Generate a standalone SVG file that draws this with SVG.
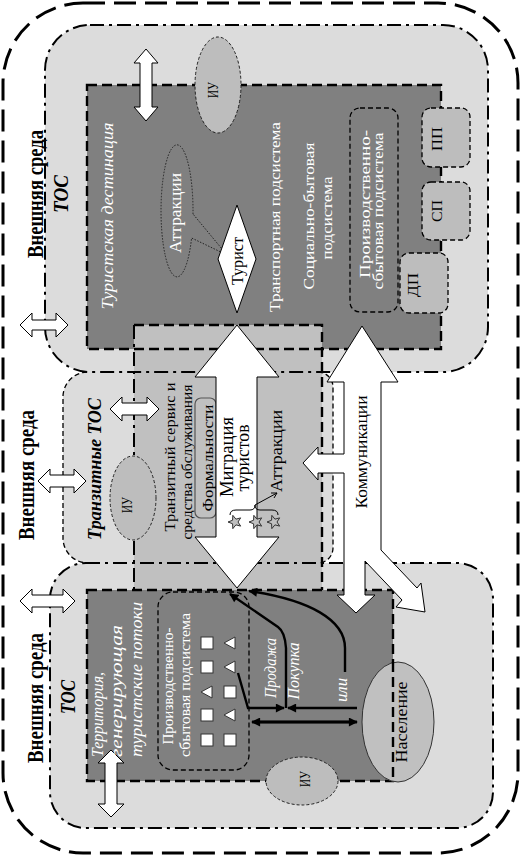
<svg xmlns="http://www.w3.org/2000/svg" xmlns:xlink="http://www.w3.org/1999/xlink" width="521" height="856" viewBox="0 0 521 856">
<style>
text{font-family:"Liberation Serif","Times New Roman",serif;}
.w{fill:#fff}
.k{fill:#000}
.it{font-style:italic}
.b{font-weight:bold}
.lt{fill:#dcdcdc}
.dk{fill:#808080}
.md{fill:#c0c0c0}
.dd{fill:none;stroke:#000;stroke-width:2;stroke-dasharray:14 5 3 5}
.ds{fill:none;stroke:#000;stroke-width:2.4;stroke-dasharray:10 5}
.sd{fill:none;stroke:#000;stroke-width:1.3;stroke-dasharray:5 3}
.iu{fill:#bdbdbd;stroke:#222;stroke-width:1;stroke-dasharray:3 2}
.box{fill:#bdbdbd;stroke:#000;stroke-width:1.3;stroke-dasharray:5 3}
.arr{fill:#fff;stroke:#000;stroke-width:1}
.ln{fill:none;stroke:#000;stroke-width:2.4}
</style>
<defs>
<marker id="ah" viewBox="0 0 10 10" refX="9" refY="5" markerWidth="10" markerHeight="9" markerUnits="userSpaceOnUse" orient="auto">
<path d="M0,0 L10,5 L0,10 Z" fill="#000"/>
</marker>
<path id="star" d="M0,-7 L1.76,-2.43 L6.66,-2.16 L2.85,0.93 L4.11,5.66 L0,3 L-4.11,5.66 L-2.85,0.93 L-6.66,-2.16 L-1.76,-2.43 Z" fill="#c0c0c0" stroke="#333" stroke-width="1"/>
</defs>

<g id="outer">
<rect x="3" y="3" width="515" height="850" rx="80" fill="none" stroke="#000" stroke-width="3" stroke-dasharray="22 9"/>
</g>

<g id="fills">
<rect class="lt" x="45" y="25" width="443" height="347" rx="45"/>
<rect class="lt" x="50" y="563" width="443" height="265" rx="36"/>
<path class="lt" d="M87,372 H318 A15,15 0 0 1 333,387 V548 A15,15 0 0 1 318,563 H88 A25,25 0 0 1 63,538 V397 A25,25 0 0 1 87,372 Z"/>
<rect class="dk" x="87" y="85" width="354" height="264"/>
<rect class="dk" x="87" y="590" width="306" height="191"/>
<rect class="md" x="134" y="325" width="188" height="265"/>
</g>

<g id="borders">
<rect class="dd" x="45" y="25" width="443" height="347" rx="45"/>
<rect class="dd" x="50" y="563" width="443" height="265" rx="36"/>
<path class="sd" d="M87,372 A25,25 0 0 0 63,397 V538 A25,25 0 0 0 88,563"/>
<path class="sd" d="M318,372 A15,15 0 0 1 333,387 V548 A15,15 0 0 1 318,563"/>
<rect class="ds" x="87" y="85" width="354" height="264"/>
<rect class="ds" x="87" y="590" width="306" height="191"/>
<path class="ds" d="M134,325 H322 V590"/>
<path class="dd" d="M134,325 V590"/>
</g>

<g id="tos-top">
<text class="b" font-size="24" transform="translate(43,194) rotate(-90)" text-anchor="middle" textLength="128" lengthAdjust="spacingAndGlyphs">Внешняя среда</text>
<text class="b it" font-size="20" transform="translate(68,194) rotate(-90)" text-anchor="middle" textLength="38" lengthAdjust="spacingAndGlyphs">ТОС</text>
<polygon class="arr" points="146,49 158,63 152,63 152,107 158,107 146,121 134,107 140,107 140,63 134,63"/>
<polygon class="arr" points="20,325 32,313 32,320 56,320 56,313 68,325 56,337 56,330 32,330 32,337"/>
</g>

<g id="iu-top">
<ellipse class="iu" cx="218" cy="85" rx="23" ry="48"/>
<text font-size="15" transform="translate(218,90) rotate(-90)" text-anchor="middle" textLength="16" lengthAdjust="spacingAndGlyphs">ИУ</text>
</g>

<g id="destination">
<text class="w it" font-size="16" transform="translate(113,216) rotate(-90)" text-anchor="middle" textLength="187" lengthAdjust="spacingAndGlyphs">Туристская дестинация</text>
<text class="w" font-size="15" transform="translate(280,217) rotate(-90)" text-anchor="middle" textLength="190" lengthAdjust="spacingAndGlyphs">Транспортная подсистема</text>
<text class="w" font-size="14" transform="translate(314,216) rotate(-90)" text-anchor="middle" textLength="147" lengthAdjust="spacingAndGlyphs">Социально-бытовая</text>
<text class="w" font-size="14" transform="translate(332,218) rotate(-90)" text-anchor="middle" textLength="83" lengthAdjust="spacingAndGlyphs">подсистема</text>
</g>

<g id="attractions-top">
<path d="M193,214 A16,66 0 1 0 191.6,238 L227,255 Z" fill="none" stroke="#222" stroke-width="1" stroke-dasharray="1.5 1.5"/>
<text class="w" font-size="17" transform="translate(181,213) rotate(-90)" text-anchor="middle" textLength="80" lengthAdjust="spacingAndGlyphs">Аттракции</text>
</g>

<g id="tourist">
<polygon class="arr" points="237,205 256,259 237,313 218,259"/>
<text class="k" font-size="17" transform="translate(243,261) rotate(-90)" text-anchor="middle" textLength="48" lengthAdjust="spacingAndGlyphs">Турист</text>
</g>

<g id="prod-top">
<rect class="sd" x="350" y="108" width="48" height="204" rx="10"/>
<text class="w" font-size="15" transform="translate(370,204) rotate(-90)" text-anchor="middle" textLength="148" lengthAdjust="spacingAndGlyphs">Производственно-</text>
<text class="w" font-size="14" transform="translate(383,211) rotate(-90)" text-anchor="middle" textLength="157" lengthAdjust="spacingAndGlyphs">сбытовая подсистема</text>
</g>

<g id="pp">
<rect class="box" x="422" y="108" width="48" height="59" rx="9"/>
<text font-size="15" transform="translate(442,139) rotate(-90)" text-anchor="middle" textLength="24" lengthAdjust="spacingAndGlyphs">ПП</text>
</g>
<g id="sp">
<rect class="box" x="422" y="182" width="48" height="58" rx="9"/>
<text font-size="15" transform="translate(442,211) rotate(-90)" text-anchor="middle" textLength="22" lengthAdjust="spacingAndGlyphs">СП</text>
</g>
<g id="dp">
<rect class="box" x="400" y="253" width="48" height="60" rx="9"/>
<text font-size="15" transform="translate(418,285) rotate(-90)" text-anchor="middle" textLength="24" lengthAdjust="spacingAndGlyphs">ДП</text>
</g>

<g id="tos-transit">
<text class="b" font-size="24" transform="translate(34,475) rotate(-90)" text-anchor="middle" textLength="130" lengthAdjust="spacingAndGlyphs">Внешняя среда</text>
<text class="b it" font-size="19" transform="translate(101,469) rotate(-90)" text-anchor="middle" textLength="142" lengthAdjust="spacingAndGlyphs">Транзитные ТОС</text>
<polygon class="arr" points="38,481 50,469 50,475 74,475 74,469 86,481 74,493 74,487 50,487 50,493"/>
<polygon class="arr" points="110,409 122,397 122,403 147,403 147,397 159,409 147,421 147,415 122,415 122,421"/>
</g>

<g id="iu-transit">
<ellipse class="iu" cx="133" cy="498" rx="23" ry="42"/>
<text font-size="15" transform="translate(132,505) rotate(-90)" text-anchor="middle" textLength="16" lengthAdjust="spacingAndGlyphs">ИУ</text>
</g>

<g id="transit-service">
<text class="k" font-size="15" transform="translate(175,457) rotate(-90)" text-anchor="middle" textLength="149" lengthAdjust="spacingAndGlyphs">Транзитный сервис и</text>
<text class="k" font-size="15" transform="translate(192,462) rotate(-90)" text-anchor="middle" textLength="155" lengthAdjust="spacingAndGlyphs">средства обслуживания</text>
</g>

<g id="formalities">
<rect x="195" y="398" width="21" height="120" rx="6" fill="#c0c0c0" stroke="#555" stroke-width="1.2"/>
<text class="k" font-size="14" transform="translate(213,458) rotate(-90)" text-anchor="middle" textLength="107" lengthAdjust="spacingAndGlyphs">Формальности</text>
</g>

<g id="migration">
<polygon class="arr" points="237,325 279,377 257,377 257,537 279,537 237,588 195,537 216,537 216,377 195,377"/>
<text class="k" font-size="18" transform="translate(233,457) rotate(-90)" text-anchor="middle" textLength="80" lengthAdjust="spacingAndGlyphs">Миграция</text>
<text class="k" font-size="18" transform="translate(249,458) rotate(-90)" text-anchor="middle" textLength="67" lengthAdjust="spacingAndGlyphs">туристов</text>
</g>

<g id="communications">
<polygon class="arr" points="362,326 398,382 381,382 381,550 417,588 421,583 425,612 396,607 402,600 365,561 365,595 375,595 356,613 337,595 344,595 344,473 318,473 318,480 303,463 318,447 318,454 344,454 344,382 327,382"/>
<text class="k" font-size="16" transform="translate(367,452) rotate(-90)" text-anchor="middle" textLength="113" lengthAdjust="spacingAndGlyphs">Коммуникации</text>
</g>

<g id="attractions-transit">
<use xlink:href="#star" href="#star" transform="translate(235,522) rotate(-90)"/>
<use xlink:href="#star" href="#star" transform="translate(256,522) rotate(-90)"/>
<use xlink:href="#star" href="#star" transform="translate(274,522) rotate(-90)"/>
<path d="M230,515 Q230,510 236,510 L250,510 Q255,510 255,505 Q255,510 260,510 L272,510 Q278,510 278,515" fill="none" stroke="#000" stroke-width="1"/>
<line x1="255" y1="505" x2="277" y2="493" stroke="#000" stroke-width="1"/>
<path d="M271,493 L277,493 L274,498" fill="none" stroke="#000" stroke-width="1"/>
<text class="k" font-size="17" transform="translate(282,451) rotate(-90)" text-anchor="middle" textLength="82" lengthAdjust="spacingAndGlyphs">Аттракции</text>
</g>

<g id="tos-bottom">
<text class="b" font-size="24" transform="translate(43,698) rotate(-90)" text-anchor="middle" textLength="130" lengthAdjust="spacingAndGlyphs">Внешняя среда</text>
<text class="b it" font-size="20" transform="translate(75,697) rotate(-90)" text-anchor="middle" textLength="34" lengthAdjust="spacingAndGlyphs">ТОС</text>
<polygon class="arr" points="20,601 32,589 32,595 63,595 63,589 75,601 63,613 63,607 32,607 32,613"/>
<polygon class="arr" points="111,750 124,763 117,763 117,804 124,804 111,817 98,804 105,804 105,763 98,763"/>
</g>

<g id="generating">
<text class="w it" font-size="17" transform="translate(103,757) rotate(-90)" textLength="85" lengthAdjust="spacingAndGlyphs">Территория,</text>
<text class="w it" font-size="17" transform="translate(122,757) rotate(-90)" textLength="132" lengthAdjust="spacingAndGlyphs">генерирующая</text>
<text class="w it" font-size="17" transform="translate(142,757) rotate(-90)" textLength="155" lengthAdjust="spacingAndGlyphs">туристские потоки</text>
</g>

<g id="prod-bottom">
<rect class="sd" x="158" y="592" width="91" height="178" rx="15"/>
<text class="w" font-size="14" transform="translate(173,686) rotate(-90)" text-anchor="middle" textLength="117" lengthAdjust="spacingAndGlyphs">Производственно-</text>
<text class="w" font-size="14" transform="translate(190,685) rotate(-90)" text-anchor="middle" textLength="144" lengthAdjust="spacingAndGlyphs">сбытовая подсистема</text>
<g fill="#fff" stroke="#333" stroke-width="1">
<rect x="201" y="637" width="12" height="12"/>
<rect x="201" y="661" width="12" height="12"/>
<polygon points="201,692 212,686 212,698"/>
<rect x="201" y="709" width="12" height="12"/>
<rect x="201" y="734" width="12" height="12"/>
<polygon points="224,643 235,637 235,649"/>
<polygon points="224,667 235,661 235,673"/>
<rect x="224" y="686" width="12" height="12"/>
<polygon points="224,715 235,709 235,721"/>
<rect x="224" y="734" width="12" height="12"/>
</g>
</g>

<g id="connectors">
<polyline class="ln" points="238,673 248,708 284,708" marker-end="url(#ah)"/>
<line class="ln" x1="357" y1="708" x2="288" y2="708" marker-end="url(#ah)"/>
<line class="ln" x1="260" y1="722" x2="350" y2="722"/>
<line class="ln" x1="357" y1="722" x2="252" y2="722" marker-end="url(#ah)"/>
<line class="ln" x1="252" y1="722" x2="357" y2="722" marker-end="url(#ah)"/>
<path class="ln" d="M286,708 L286,648 Q285,632 278,627 L230,594" marker-end="url(#ah)"/>
<path class="ln" d="M345,672 L345,648 C345,620 310,600 249,591" marker-end="url(#ah)"/>
</g>

<g id="sales-labels">
<text class="w it" font-size="16" transform="translate(276,668) rotate(-90)" text-anchor="middle" textLength="60" lengthAdjust="spacingAndGlyphs">Продажа</text>
<text class="w it" font-size="16" transform="translate(299,671) rotate(-90)" text-anchor="middle" textLength="57" lengthAdjust="spacingAndGlyphs">Покупка</text>
<text class="w it" font-size="16" transform="translate(347,690) rotate(-90)" text-anchor="middle" textLength="24" lengthAdjust="spacingAndGlyphs">или</text>
</g>

<g id="iu-bottom">
<ellipse class="iu" cx="302" cy="781" rx="36" ry="24"/>
<text font-size="15" transform="translate(310,779) rotate(-90)" text-anchor="middle" textLength="16" lengthAdjust="spacingAndGlyphs">ИУ</text>
</g>

<g id="population">
<ellipse cx="398" cy="722" rx="36" ry="60" fill="#c0c0c0" stroke="#333" stroke-width="1"/>
<line class="ds" x1="393" y1="662" x2="393" y2="781"/>
<text class="k" font-size="16" transform="translate(407,722) rotate(-90)" text-anchor="middle" textLength="81" lengthAdjust="spacingAndGlyphs">Население</text>
</g>
</svg>
